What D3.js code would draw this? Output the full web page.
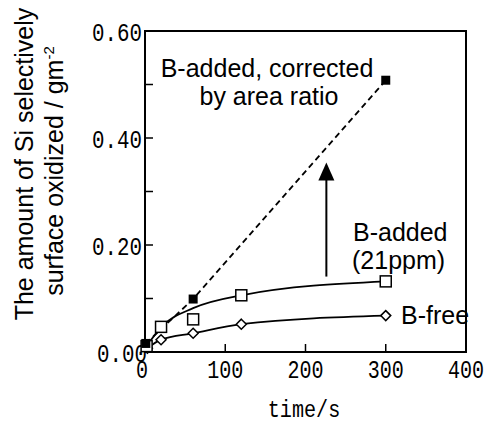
<!DOCTYPE html>
<html>
<head>
<meta charset="utf-8">
<script src="https://cdn.jsdelivr.net/npm/d3@7"></script>
<style>
  body { margin: 0; background: #fff; }
  svg { display: block; }
</style>
</head>
<body>
<div id="chart"></div>
<script>
// data
var correctedPts = [[1, 0.016], [60, 0.099], [300, 0.508]];          // filled squares, dashed
var addedPts = [[2, 0.011], [20, 0.047], [60, 0.061], [120, 0.106], [300, 0.132]]; // open squares
var addedFit = [[2, 0.011], [20, 0.046], [60, 0.082], [120, 0.106], [300, 0.132]];  // solid curve
var freePts = [[3, 0.007], [20, 0.023], [60, 0.035], [120, 0.052], [300, 0.068]];   // diamonds
var xTicks = [0, 100, 200, 300, 400];
var yTicks = [0, 0.2, 0.4, 0.6];
var yMinor = [0.1, 0.3, 0.5];
var arrowFrom = [226, 0.141], arrowTo = [226, 0.354];

var width = 493, height = 425;
var svg = d3.select("#chart").append("svg")
  .attr("width", width)
  .attr("height", height);

var x = d3.scaleLinear().domain([0, 400]).range([145, 466]);
var y = d3.scaleLinear().domain([0, 0.6]).range([352, 31]);

var sans = "'Liberation Sans', Arial, sans-serif";
var mono = "'Liberation Mono', 'DejaVu Sans Mono', monospace";

// frame
svg.append("rect")
  .attr("x", x(0)).attr("y", y(0.6))
  .attr("width", x(400) - x(0)).attr("height", y(0) - y(0.6))
  .attr("fill", "none").attr("stroke", "#000").attr("stroke-width", 2);

// inward ticks
svg.selectAll(".xt").data(xTicks.slice(1, -1)).enter().append("line")
  .attr("x1", function(d) { return x(d); }).attr("x2", function(d) { return x(d); })
  .attr("y1", y(0)).attr("y2", y(0) - 8)
  .attr("stroke", "#000").attr("stroke-width", 1.5);

svg.selectAll(".yt").data(yTicks.slice(1, -1).concat(yMinor)).enter().append("line")
  .attr("x1", x(0)).attr("x2", x(0) + 8)
  .attr("y1", function(d) { return y(d); }).attr("y2", function(d) { return y(d); })
  .attr("stroke", "#000").attr("stroke-width", 1.5);

// narrow mono labels: squeeze horizontally with a transform
function monoText(tx, ty, anchor, sx, str, size) {
  svg.append("text")
    .attr("transform", "translate(" + tx + "," + ty + ") scale(" + sx + ",1)")
    .attr("text-anchor", anchor)
    .attr("font-family", mono).attr("font-size", size || 26)
    .text(str);
}

xTicks.forEach(function(d) {
  monoText(x(d) - (d === 0 ? 3 : 0), 378, "middle", 0.77, d);
});
yTicks.forEach(function(d) {
  monoText(d === 0 ? 147 : 142, y(d) + 9.5, "end", 0.8, d.toFixed(2));
});

// axis titles
monoText(304, 417, "middle", 0.84, "time/s", 24);

var yTitle = svg.append("text")
  .attr("transform", "translate(33,164) rotate(-90)")
  .attr("text-anchor", "middle")
  .attr("font-family", sans).attr("font-size", 25);
yTitle.append("tspan").attr("x", 0).attr("y", 0).text("The amount of Si selectively");

var yTitle2 = svg.append("text")
  .attr("transform", "translate(63,171) rotate(-90)")
  .attr("text-anchor", "middle")
  .attr("font-family", sans).attr("font-size", 25);
yTitle2.append("tspan").text("surface oxidized / gm");
yTitle2.append("tspan").attr("dy", -9).attr("font-size", 15).text("-2");

// lines
var straight = d3.line()
  .x(function(d) { return x(d[0]); })
  .y(function(d) { return y(d[1]); });
var smooth = d3.line()
  .curve(d3.curveMonotoneX)
  .x(function(d) { return x(d[0]); })
  .y(function(d) { return y(d[1]); });

svg.append("path").attr("d", straight(correctedPts))
  .attr("fill", "none").attr("stroke", "#000").attr("stroke-width", 1.8)
  .attr("stroke-dasharray", "6,4");
svg.append("path").attr("d", smooth(addedFit))
  .attr("fill", "none").attr("stroke", "#000").attr("stroke-width", 1.8);
svg.append("path").attr("d", smooth(freePts))
  .attr("fill", "none").attr("stroke", "#000").attr("stroke-width", 1.8);

// markers
svg.selectAll(".fd").data(freePts).enter().append("path")
  .attr("d", "M0,-5L5,0L0,5L-5,0Z")
  .attr("transform", function(d) { return "translate(" + x(d[0]) + "," + y(d[1]) + ")"; })
  .attr("fill", "#fff").attr("stroke", "#000").attr("stroke-width", 1.5);

svg.selectAll(".os").data(addedPts).enter().append("rect")
  .attr("x", function(d) { return x(d[0]) - 5.5; })
  .attr("y", function(d) { return y(d[1]) - 5.5; })
  .attr("width", 11).attr("height", 11)
  .attr("fill", "#fff").attr("stroke", "#000").attr("stroke-width", 1.5);

svg.selectAll(".cs").data(correctedPts).enter().append("rect")
  .attr("x", function(d) { return x(d[0]) - 4.5; })
  .attr("y", function(d) { return y(d[1]) - 4.5; })
  .attr("width", 9).attr("height", 9)
  .attr("fill", "#000");

// arrow
svg.append("line")
  .attr("x1", x(arrowFrom[0])).attr("x2", x(arrowTo[0]))
  .attr("y1", y(arrowFrom[1])).attr("y2", y(arrowTo[1]) + 15)
  .attr("stroke", "#000").attr("stroke-width", 2);
svg.append("path")
  .attr("d", "M0,0L8,18L-8,18Z")
  .attr("transform", "translate(" + x(arrowTo[0]) + "," + y(arrowTo[1]) + ")")
  .attr("fill", "#000");

// annotations
function label(tx, ty, anchor, str) {
  svg.append("text")
    .attr("x", tx).attr("y", ty)
    .attr("text-anchor", anchor)
    .attr("font-family", sans).attr("font-size", 25)
    .text(str);
}
label(267, 77, "middle", "B-added, corrected");
label(269, 105, "middle", "by area ratio");
label(353, 241, "start", "B-added");
label(352, 269, "start", "(21ppm)");
label(401, 324, "start", "B-free");
</script>
</body>
</html>
